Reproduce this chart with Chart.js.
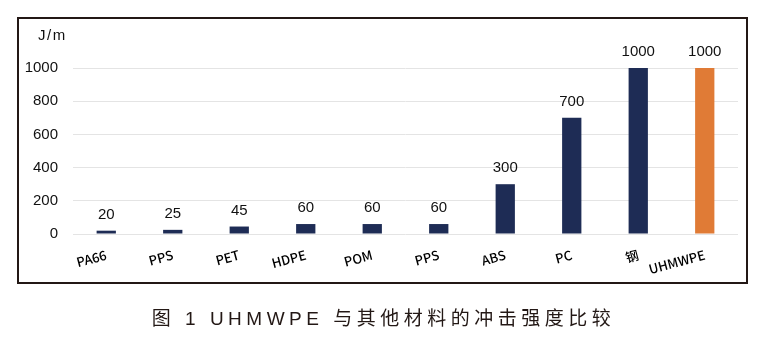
<!DOCTYPE html>
<html>
<head>
<meta charset="utf-8">
<script src="https://cdn.jsdelivr.net/npm/chart.js@4/dist/chart.umd.min.js"></script>
<style>
  html, body { margin: 0; padding: 0; background: #fff; }
  #wrap { position: relative; width: 767px; height: 361px; overflow: hidden; }
  #frame { position: absolute; left: 17px; top: 17px; width: 727px; height: 263px; border: 2px solid #231815; }
  #unit { position: absolute; left: 38px; top: 26px; font: 15px "Liberation Sans", Arial, sans-serif; letter-spacing: 1.5px; color: #111; }
  #caption { position: absolute; left: 0; width: 767px; top: 303px; text-align: center;
    font: 19px "Liberation Sans", "Noto Sans CJK SC", sans-serif; letter-spacing: 4.5px; color: #231815; }
  canvas { position: absolute; left: 0; top: 0; }
</style>
</head>
<body>
<div id="wrap">
  <div id="frame"></div>
  <canvas id="c" width="767" height="361"></canvas>
  <div id="unit">J/m</div>
  <div id="caption">图 1 UHMWPE 与其他材料的冲击强度比较</div>
</div>
<script>
const categories = ["PA66", "PPS", "PET", "HDPE", "POM", "PPS", "ABS", "PC", "钢", "UHMWPE"];
const impactStrength = [20, 25, 45, 60, 60, 60, 300, 700, 1000, 1000];
const yTicks = [0, 200, 400, 600, 800, 1000];
const highlight = "UHMWPE";

const valueLabels = {
  id: 'valueLabels',
  afterDatasetsDraw(chart) {
    const ctx = chart.ctx;
    const meta = chart.getDatasetMeta(0);
    ctx.save();
    ctx.font = '15px "Liberation Sans", Arial, sans-serif';
    ctx.fillStyle = '#111';
    ctx.textAlign = 'center';
    ctx.textBaseline = 'alphabetic';
    meta.data.forEach((bar, i) => {
      ctx.fillText(String(chart.data.datasets[0].data[i]), bar.x, bar.y - 12);
    });
    ctx.restore();
  }
};

new Chart(document.getElementById('c'), {
  type: 'bar',
  data: {
    labels: categories,
    datasets: [{
      data: impactStrength,
      backgroundColor: (c) => categories[c.dataIndex] === highlight ? '#e07b36' : '#1e2c55',
      categoryPercentage: 1,
      barPercentage: 0.29
    }]
  },
  options: {
    responsive: false,
    animation: false,
    devicePixelRatio: 1,
    layout: { padding: { top: 68, right: 29, bottom: 87, left: 0 } },
    plugins: { legend: { display: false }, tooltip: { enabled: false } },
    scales: {
      x: {
        grid: { display: false },
        border: { display: false },
        ticks: {
          minRotation: 15, maxRotation: 15, padding: 5,
          color: '#000',
          font: { family: '"Noto Sans CJK SC", "Liberation Sans", sans-serif', size: 13, weight: '500' }
        },
        afterFit(s) { s.height = 40; }
      },
      y: {
        min: 0, max: 1000,
        afterBuildTicks(s) { s.ticks = yTicks.map(v => ({ value: v })); },
        grid: { color: '#e4e4e4', drawTicks: false, lineWidth: 1 },
        border: { display: false },
        ticks: {
          padding: 15, color: '#111',
          callback: (v) => String(v),
          font: { family: '"Liberation Sans", Arial, sans-serif', size: 15 }
        },
        afterFit(s) { s.width = 73; }
      }
    }
  },
  plugins: [valueLabels]
});
</script>
</body>
</html>
